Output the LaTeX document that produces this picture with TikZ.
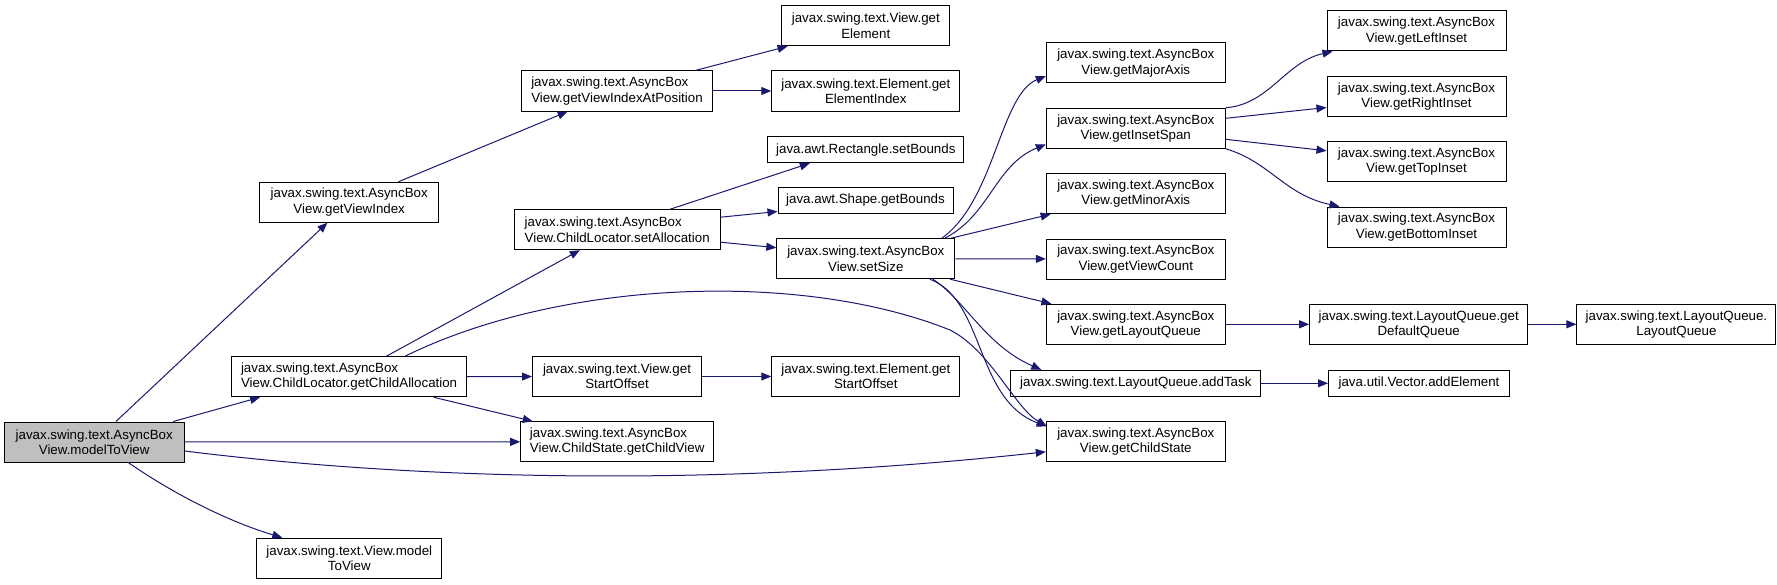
\documentclass[tikz,border=0pt]{standalone}
\usepackage{fontspec}
\setmainfont{Liberation Sans}
\usetikzlibrary{arrows.meta,calc}
\definecolor{call-blue}{HTML}{191970}
\definecolor{root-gray}{HTML}{BFBFBF}

\begin{document}
\begin{tikzpicture}[
    x=0.75pt, y=-0.75pt,
    font=\fontsize{10}{11.5}\selectfont,
    >={Triangle[length=7.5pt,width=6pt]},
    fn/.style={draw=black, line width=0.75pt, align=center, inner sep=0pt, minimum height=30pt, minimum width=#1*0.75pt},
    fnl/.style={fn=#1, align=left},
    fn1/.style={fn=#1, minimum height=19.5pt},
    call/.style={->, draw=call-blue, line width=0.75pt}
]
\useasboundingbox (0,0) rectangle (1777,585);

% column 1 and 2
\node[fn=180, fill=root-gray] (mtv) at (94.2,442) {javax.swing.text.AsyncBox\\View.modelToView};
\node[fn=179] (gvi) at (349.2,202.2) {javax.swing.text.AsyncBox\\View.getViewIndex};
\node[fnl=235] (gca) at (349.1,376.7) {javax.swing.text.AsyncBox\\View.ChildLocator.getChildAllocation};
\node[fn=185] (vmtv) at (349.3,558.2) {javax.swing.text.View.model\\ToView};

% column 3
\node[fnl=191] (gviap) at (617,91) {javax.swing.text.AsyncBox\\View.getViewIndexAtPosition};
\node[fnl=206] (sal) at (617.2,229.7) {javax.swing.text.AsyncBox\\View.ChildLocator.setAllocation};
\node[fn=169] (vgso) at (617,376.5) {javax.swing.text.View.get\\StartOffset};
\node[fnl=193] (cgcv) at (617.2,441.8) {javax.swing.text.AsyncBox\\View.ChildState.getChildView};

% column 4
\node[fn=168] (vge) at (865.8,25.8) {javax.swing.text.View.get\\Element};
\node[fn=188] (egei) at (865.8,91) {javax.swing.text.Element.get\\ElementIndex};
\node[fn1=196] (rsb) at (865.8,149.7) {java.awt.Rectangle.setBounds};
\node[fn1=175] (sgb) at (865.5,200.5) {java.awt.Shape.getBounds};
\node[fn=178] (ssz) at (865.8,258.7) {javax.swing.text.AsyncBox\\View.setSize};
\node[fn=188] (egso) at (865.8,376.5) {javax.swing.text.Element.get\\StartOffset};

% column 5
\node[fn=179] (gmaj) at (1135.8,63) {javax.swing.text.AsyncBox\\View.getMajorAxis};
\node[fn=179] (gis) at (1135.8,128.3) {javax.swing.text.AsyncBox\\View.getInsetSpan};
\node[fn=179] (gmin) at (1135.8,193.7) {javax.swing.text.AsyncBox\\View.getMinorAxis};
\node[fn=179] (gvc) at (1135.8,259) {javax.swing.text.AsyncBox\\View.getViewCount};
\node[fn=179] (glq) at (1135.8,324.3) {javax.swing.text.AsyncBox\\View.getLayoutQueue};
\node[fn1=250] (lqat) at (1135.8,383.3) {javax.swing.text.LayoutQueue.addTask};
\node[fn=179] (gcs) at (1135.8,441.8) {javax.swing.text.AsyncBox\\View.getChildState};

% column 6 and 7
\node[fn=179] (gli) at (1416.5,31) {javax.swing.text.AsyncBox\\View.getLeftInset};
\node[fn=179] (gri) at (1416.5,96.5) {javax.swing.text.AsyncBox\\View.getRightInset};
\node[fn=179] (gti) at (1416.5,161.8) {javax.swing.text.AsyncBox\\View.getTopInset};
\node[fn=179] (gbi) at (1416.5,227) {javax.swing.text.AsyncBox\\View.getBottomInset};
\node[fn=218] (lqgdq) at (1418.7,324.3) {javax.swing.text.LayoutQueue.get\\DefaultQueue};
\node[fn1=181] (vae) at (1419,383.3) {java.util.Vector.addElement};
\node[fn=199] (lqlq) at (1676.4,324.3) {javax.swing.text.LayoutQueue.\\LayoutQueue};

\draw[call] (mtv) -- (gvi);
\draw[call] ($(mtv.north)+(79,0)$) -- ($(gca.south)+(-89,0)$);
\draw[call] (mtv) -- (cgcv);
\draw[call] ($(mtv.east)+(0,9)$) .. controls (450,484) and (750,484) .. ($(gcs.west)+(0,10)$);
\draw[call] ($(mtv.south)+(34,0)$) .. controls (175,495) and (230,522) .. ($(vmtv.north)+(-67,0)$);
\draw[call] (gvi) -- (gviap);
\draw[call] (gviap) -- (vge);
\draw[call] (gviap) -- (egei);
\draw[call] (gca) -- (sal);
\draw[call] ($(gca.north)+(56,0)$) .. controls (560,280) and (800,270) .. (950,330)
    .. controls (990,350) and (1015,408) .. ($(gcs.north west)+(1,5)$);
\draw[call] (gca) -- (vgso);
\draw[call] (gca) -- (cgcv);
\draw[call] ($(sal.north)+(53,0)$) -- ($(rsb.south)+(-56,0)$);
\draw[call] ($(sal.east)+(0,-12.5)$) -- ($(sgb.west)+(0,11)$);
\draw[call] ($(sal.east)+(0,12.5)$) -- ($(ssz.west)+(0,-11)$);
\draw[call] (vgso) -- (egso);
\draw[call] ($(ssz.north)+(76,0)$) .. controls (995,200) and (1000,95) .. ($(gmaj.west)+(0,13)$);
\draw[call] ($(ssz.north)+(79,0)$) .. controls (990,215) and (995,165) .. ($(gis.west)+(0,16)$);
\draw[call] (ssz) -- (gmin);
\draw[call] (ssz) -- (gvc);
\draw[call] (ssz) -- (glq);
\draw[call] ($(ssz.south)+(67,0)$) .. controls (965,300) and (985,345) .. ($(lqat.north west)+(31,0)$);
\draw[call] ($(ssz.south)+(64,0)$) .. controls (985,300) and (975,400) .. ($(gcs.north west)+(1,5)$);
\draw[call] (gis.north east) .. controls (1270,104) and (1285,62) .. ($(gli.south west)+(6,0)$);
\draw[call] ($(gis.east)+(0,-10)$) -- ($(gri.west)+(0,11)$);
\draw[call] ($(gis.east)+(0,11)$) -- ($(gti.west)+(0,-11)$);
\draw[call] (gis.south east) .. controls (1270,162) and (1285,195) .. ($(gbi.north west)+(13,0)$);
\draw[call] (glq) -- (lqgdq);
\draw[call] (lqgdq) -- (lqlq);
\draw[call] (lqat) -- (vae);
\end{tikzpicture}
\end{document}
